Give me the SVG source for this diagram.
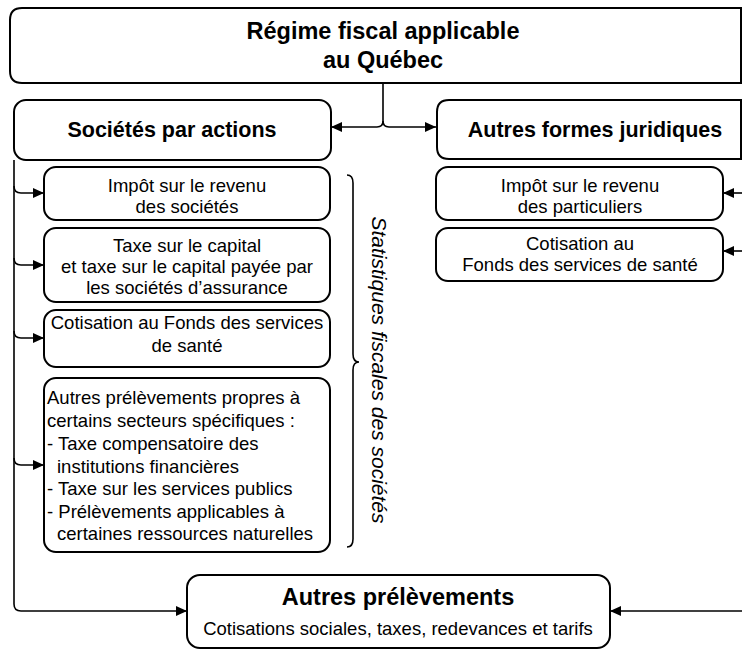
<svg xmlns="http://www.w3.org/2000/svg" width="742" height="651" viewBox="0 0 742 651">
<style>
.box{fill:#fff;stroke:#000;stroke-width:2}
.con{fill:none;stroke:#000;stroke-width:1.6}
.t{font-family:"Liberation Sans",Arial,sans-serif;fill:#000}
.b{font-weight:bold}
.c{text-anchor:middle}
.r{font-size:18.5px}
</style>
<defs>
<marker id="ah" markerUnits="userSpaceOnUse" markerWidth="12" markerHeight="10" refX="11" refY="5" orient="auto">
<path d="M0,0 L11,5 L0,10 z" fill="#000"/>
</marker>
</defs>
<rect width="742" height="651" fill="#fff"/>
<g id="connectors">
<path class="con" d="M383,83 V121 q0,6 -6,6 H331" marker-end="url(#ah)"/>
<path class="con" d="M383,121 q0,6 6,6 H436" marker-end="url(#ah)"/>
<path class="con" d="M14,160 V604 q0,7 7,7 H187" marker-end="url(#ah)"/>
<path class="con" d="M14,186 q0,7 7,7 H44" marker-end="url(#ah)"/>
<path class="con" d="M14,258 q0,7 7,7 H44" marker-end="url(#ah)"/>
<path class="con" d="M14,331 q0,7 7,7 H44" marker-end="url(#ah)"/>
<path class="con" d="M14,458 q0,7 7,7 H44" marker-end="url(#ah)"/>
<path class="con" d="M742,193 H723" marker-end="url(#ah)"/>
<path class="con" d="M742,251 H723" marker-end="url(#ah)"/>
<path class="con" d="M742,611 H610" marker-end="url(#ah)"/>
</g>
<g id="regime">
<path class="box" d="M741,8 V83 H22 q-12,0 -12,-12 V20 q0,-12 12,-12 Z"/>
<text class="t b c" x="383" y="39" font-size="23.5px">Régime fiscal applicable</text>
<text class="t b c" x="383" y="68" font-size="23.5px">au Québec</text>
</g>
<g id="societes">
<rect class="box" x="14" y="100" width="317" height="60" rx="12"/>
<text class="t b c" x="172" y="137" font-size="21.5px">Sociétés par actions</text>
</g>
<g id="autres-formes">
<path class="box" d="M741,100 V159 H449 q-12,0 -12,-12 V112 q0,-12 12,-12 Z"/>
<text class="t b c" x="595" y="137" font-size="21.5px">Autres formes juridiques</text>
</g>
<g id="impot-societes">
<rect class="box" x="44" y="167" width="286" height="53" rx="12"/>
<text class="t r c" x="187" y="191.5">Impôt sur le revenu</text>
<text class="t r c" x="187" y="212.5">des sociétés</text>
</g>
<g id="taxe-capital">
<rect class="box" x="44" y="228" width="286" height="74" rx="12"/>
<text class="t r c" x="187" y="251.5">Taxe sur le capital</text>
<text class="t r c" x="187" y="272.5">et taxe sur le capital payée par</text>
<text class="t r c" x="187" y="293.5">les sociétés d’assurance</text>
</g>
<g id="fss-societes">
<rect class="box" x="44" y="310" width="286" height="57" rx="12"/>
<text class="t r c" x="187" y="329">Cotisation au Fonds des services</text>
<text class="t r c" x="187" y="352">de santé</text>
</g>
<g id="autres-secteurs">
<rect class="box" x="44" y="378" width="286" height="174" rx="12"/>
<text class="t r" x="47" y="403.5">Autres prélèvements propres à</text>
<text class="t r" x="47" y="426.5">certains secteurs spécifiques :</text>
<text class="t r" x="47" y="449.5">- Taxe compensatoire des</text>
<text class="t r" x="57" y="472.5">institutions financières</text>
<text class="t r" x="47" y="494.5">- Taxe sur les services publics</text>
<text class="t r" x="47" y="517.5">- Prélèvements applicables à</text>
<text class="t r" x="57" y="539.5">certaines ressources naturelles</text>
</g>
<g id="impot-particuliers">
<rect class="box" x="436" y="167" width="287" height="53" rx="12"/>
<text class="t r c" x="580" y="191.5">Impôt sur le revenu</text>
<text class="t r c" x="580" y="212.5">des particuliers</text>
</g>
<g id="fss-particuliers">
<rect class="box" x="436" y="228" width="287" height="53" rx="12"/>
<text class="t r c" x="580" y="249.5">Cotisation au</text>
<text class="t r c" x="580" y="270.5">Fonds des services de santé</text>
</g>
<g id="brace">
<path class="con" d="M347,175 q6,0 6,8 V354 q0,8 6,8 q-6,0 -6,8 V539 q0,8 -6,8" stroke-width="1.2"/>
<text class="t c" x="0" y="0" font-size="21px" font-style="italic" transform="translate(372,370) rotate(90)">Statistiques fiscales des sociétés</text>
</g>
<g id="autres-prelevements">
<rect class="box" x="187" y="575" width="423" height="73" rx="13"/>
<text class="t b c" x="398" y="605" font-size="23.5px">Autres prélèvements</text>
<text class="t r c" x="398" y="635">Cotisations sociales, taxes, redevances et tarifs</text>
</g>
</svg>
